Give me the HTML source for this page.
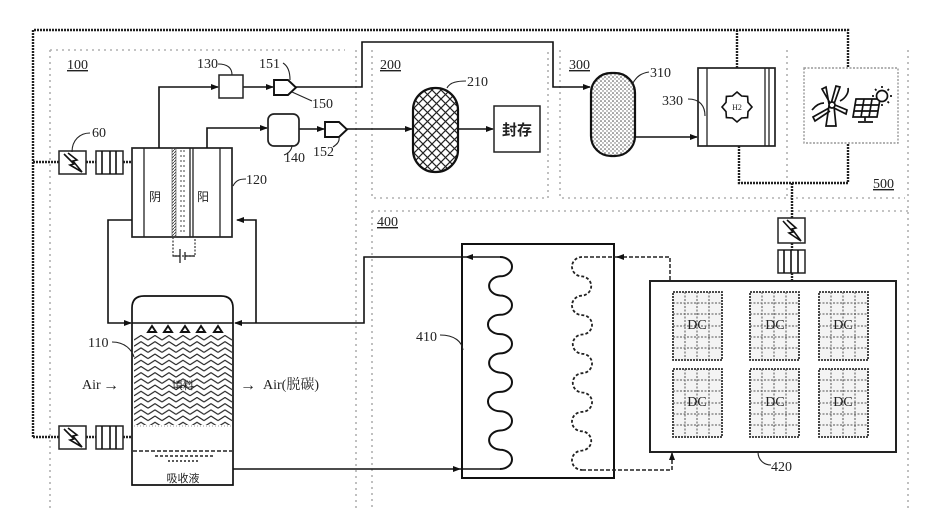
<!DOCTYPE html>
<html><head><meta charset="utf-8"><style>
html,body{margin:0;padding:0;background:#fff;}
svg{display:block;}
.t{font-family:"Liberation Serif","Noto Serif CJK SC",serif;font-size:14px;fill:#222;}
.c{font-family:"Liberation Serif","Noto Sans CJK SC",sans-serif;fill:#222;}
</style></head><body>
<svg width="927" height="509" viewBox="0 0 927 509" xmlns="http://www.w3.org/2000/svg">
<defs>
<marker id="a" markerWidth="8" markerHeight="6" refX="7" refY="3" orient="auto" markerUnits="userSpaceOnUse"><path d="M0,0 L8,3 L0,6z" fill="#111"/></marker>
<pattern id="zig" width="14" height="6.2" patternUnits="userSpaceOnUse" x="134" y="335"><path d="M0,5 L7,0.5 L14,5" fill="none" stroke="#222" stroke-width="1.2"/></pattern>
<pattern id="hatch" width="9" height="9" patternUnits="userSpaceOnUse"><path d="M0,0 L9,9 M9,0 L0,9" stroke="#222" stroke-width="1.2"/></pattern>
<pattern id="dots" width="4" height="4" patternUnits="userSpaceOnUse"><circle cx="1" cy="1" r="0.8" fill="#444"/><circle cx="3" cy="3" r="0.7" fill="#666"/></pattern>
<pattern id="mem" width="3" height="3" patternUnits="userSpaceOnUse"><path d="M0,3 L3,0" stroke="#333" stroke-width="0.8"/></pattern>
<g id="panel">
<rect x="0" y="0" width="49" height="68" fill="#f4f4f4" stroke="#333" stroke-width="1.8" stroke-dasharray="2 1"/>
<g stroke="#555" stroke-width="1" stroke-dasharray="2 1.5">
<path d="M12,0V68M24,0V68M36,0V68M0,11H49M0,22H49M0,34H49M0,45H49M0,56H49"/>
</g>
</g>
</defs>
<rect width="927" height="509" fill="#fff"/>

<!-- region boundaries (light) -->
<g fill="none" stroke="#b0b0b0" stroke-width="1.6" stroke-dasharray="2 4">
<path d="M50,50V509M50,50H345M356,50V509"/>
<path d="M372,50V198H548V50"/>
<path d="M560,50V198H905M787,50V198"/>
<path d="M908,50V509M372,211H908M372,211V509"/>
</g>

<!-- power dotted lines -->
<g fill="none" stroke="#222" stroke-width="2.4" stroke-dasharray="2 1">
<path d="M33,437V30H848V68"/>
<path d="M737,30V68"/>
<path d="M33,162H59M86,162H96M123,162H132"/>
<path d="M33,437H59M86,437H96M123,437H132"/>
<path d="M739,146V183H848V143"/>
<path d="M792,183V218M792,243V250M792,273V281"/>
</g>

<!-- lightning & battery boxes -->
<g fill="#fff" stroke="#222" stroke-width="1.5">
<rect x="59" y="151" width="27" height="23"/>
<rect x="96" y="151" width="27" height="23"/>
<rect x="59" y="426" width="27" height="23"/>
<rect x="96" y="426" width="27" height="23"/>
<rect x="778" y="218" width="27" height="25"/>
<rect x="778" y="250" width="27" height="23"/>
</g>
<g fill="none" stroke="#111" stroke-width="1.6">
<path d="M64,154 L74,164 L70,165 L82,172 L73,161 L77,160 L68,153"/>
<path d="M64,429 L74,439 L70,440 L82,447 L73,436 L77,435 L68,428"/>
<path d="M783,221 L793,232 L789,233 L801,241 L792,229 L796,228 L787,220"/>
<path d="M102,151V174M110,151V174M116,151V174"/>
<path d="M102,426V449M110,426V449M116,426V449"/>
<path d="M784,250V273M791,250V273M798,250V273"/>
</g>

<!-- electrolyzer 120 -->
<rect x="132" y="148" width="100" height="89" fill="#fff" stroke="#222" stroke-width="1.7"/>
<g stroke="#222" stroke-width="1.3">
<path d="M144,148V237M220,148V237M190,148V237M193,148V237"/>
</g>
<rect x="172" y="148" width="4" height="89" fill="url(#mem)" stroke="#444" stroke-width="0.6"/>
<g stroke="#444" stroke-width="1" stroke-dasharray="2 3"><path d="M181,150V235M184,150V235"/></g>
<text class="c" x="149" y="201" font-size="12">阴</text>
<text class="c" x="197" y="201" font-size="12">阳</text>
<path d="M173,237V256H195V237" fill="none" stroke="#333" stroke-width="1.2" stroke-dasharray="2 1.5"/>
<path d="M180,249V263M185,252V260M173,256H180M185,256H195" fill="none" stroke="#222" stroke-width="1.3"/>

<!-- pipes top -->
<g fill="none" stroke="#111" stroke-width="1.6">
<path d="M159,148V87H218" marker-end="url(#a)"/>
<path d="M243,87H273" marker-end="url(#a)"/>
<path d="M295,87H362V42H553V87H590" marker-end="url(#a)"/>
<path d="M207,148V128H267" marker-end="url(#a)"/>
<path d="M299,129H324" marker-end="url(#a)"/>
<path d="M347,129H412" marker-end="url(#a)"/>
<path d="M458,129H493" marker-end="url(#a)"/>
<path d="M635,137H697" marker-end="url(#a)"/>
</g>
<!-- 130, 140 boxes, valves -->
<rect x="219" y="75" width="24" height="23" fill="#fff" stroke="#222" stroke-width="1.5"/>
<rect x="268" y="114" width="31" height="32" rx="6" fill="#fff" stroke="#222" stroke-width="1.7"/>
<path d="M274,80H288L296,87.5L288,95H274Z" fill="#fff" stroke="#111" stroke-width="1.9"/>
<path d="M325,122H339L347,129.5L339,137H325Z" fill="#fff" stroke="#111" stroke-width="1.9"/>

<!-- 210 tank -->
<rect x="413" y="88" width="45" height="84" rx="22" fill="url(#hatch)" stroke="#111" stroke-width="2.2"/>
<!-- storage box -->
<rect x="494" y="106" width="46" height="46" fill="#fff" stroke="#222" stroke-width="1.5"/>
<text class="c" x="517" y="135" font-size="15" font-weight="bold" text-anchor="middle">封存</text>
<!-- 310 tank -->
<rect x="591" y="73" width="44" height="83" rx="20" fill="url(#dots)" stroke="#111" stroke-width="2.2"/>

<!-- 330 box -->
<rect x="698" y="68" width="77" height="78" fill="#fff" stroke="#222" stroke-width="1.7"/>
<path d="M707,68V146M765,68V146M769,68V146" stroke="#222" stroke-width="1.3"/>
<path d="M737,92 L741.6,96 L747.6,96.4 L748,102.4 L752,107 L748,111.6 L747.6,117.6 L741.6,118 L737,122 L732.4,118 L726.4,117.6 L726,111.6 L722,107 L726,102.4 L726.4,96.4 L732.4,96Z" fill="#fff" stroke="#111" stroke-width="1.6"/>
<text class="c" x="737" y="110" font-size="8" text-anchor="middle">H2</text>

<!-- 500 box -->
<rect x="804" y="68" width="94" height="75" fill="#fff" stroke="#999" stroke-width="1.4" stroke-dasharray="2 1.5"/>
<g fill="none" stroke="#111" stroke-width="1.7">
<path d="M826,126 L829,106 L834,106 L836,126Z"/>
<path d="M831,104 L836,86 L840,87 L834,104"/>
<path d="M829,104 L826,87 L822,89 L830,103"/>
<path d="M829,108 L813,117 L815,121 L830,111"/>
<path d="M834,108 L846,114 L847,110 L835,105"/>
<path d="M840,101 C846,98 849,92 848,88"/>
<path d="M812,110 C816,105 820,103 824,103"/>
<circle cx="832" cy="105" r="3" fill="#fff"/>
<path d="M856,99 L880,99 L877,117 L853,117Z"/>
<path d="M855,105H879M854,111H878M864,99L861,117M872,99L869,117"/>
<path d="M865,117V121M858,122H873"/>
<circle cx="882" cy="96" r="5.5" fill="#fff"/>
<path d="M882,86V88M882,104V106M872,96H874M890,96H892M875,89L876.5,90.5M887.5,101.5L889,103M889,89L887.5,90.5"/>
</g>

<!-- tower 110 -->
<path d="M132,485V308Q132,296 144,296H221Q233,296 233,308V485Z" fill="#fff" stroke="#111" stroke-width="1.7"/>
<rect x="134" y="335" width="98" height="90" fill="url(#zig)"/>
<path d="M134,426H232" stroke="#999" stroke-width="1" stroke-dasharray="1 2"/>
<g fill="#fff" stroke="#111" stroke-width="1.9">
<path d="M148,332L152,326L156,332Z"/><path d="M164,332L168,326L172,332Z"/><path d="M181,332L185,326L189,332Z"/><path d="M197,332L201,326L205,332Z"/><path d="M214,332L218,326L222,332Z"/>
</g>
<g stroke="#222" stroke-width="1.4" stroke-dasharray="4 2" fill="none">
<path d="M133,451H232"/>
<path d="M155,456H215" stroke-dasharray="3 2"/>
<path d="M168,461H200" stroke-dasharray="2 2"/>
</g>
<text class="c" x="183" y="482" font-size="11" text-anchor="middle">吸收液</text>
<text class="c" x="183" y="389" font-size="11" text-anchor="middle">填料</text>
<text class="t" x="82" y="389" font-size="11">Air</text>
<text class="c" x="103" y="390" font-size="16">→</text>
<text class="c" x="240" y="390" font-size="16">→</text>
<text class="t" x="263" y="389" font-size="11">Air(脱碳)</text>

<!-- loop pipes around tower -->
<g fill="none" stroke="#111" stroke-width="1.6">
<path d="M132,220H108V323H131" marker-end="url(#a)"/>
<path d="M256,323V220H237" marker-end="url(#a)"/>
<path d="M132,323H233"/>
<path d="M500,257H466" marker-end="url(#a)"/>
<path d="M466,257H364V323H235" marker-end="url(#a)"/>
<path d="M233,469H460" marker-end="url(#a)"/>
<path d="M460,469H500"/>
</g>

<!-- 410 heat exchanger -->
<rect x="462" y="244" width="152" height="234" fill="none" stroke="#111" stroke-width="2"/>
<path d="M500,257 A12,9.64 0 0 1 500,276.3 A12,9.64 0 0 0 500,295.5 A12,9.64 0 0 1 500,314.8 A12,9.64 0 0 0 500,334.1 A12,9.64 0 0 1 500,353.4 A12,9.64 0 0 0 500,372.6 A12,9.64 0 0 1 500,391.9 A12,9.64 0 0 0 500,411.2 A12,9.64 0 0 1 500,430.5 A12,9.64 0 0 0 500,449.7 A12,9.64 0 0 1 500,469" fill="none" stroke="#111" stroke-width="2"/>
<path d="M582,257 A10,9.68 0 0 0 582,276.4 A10,9.68 0 0 1 582,295.7 A10,9.68 0 0 0 582,315.1 A10,9.68 0 0 1 582,334.5 A10,9.68 0 0 0 582,353.8 A10,9.68 0 0 1 582,373.2 A10,9.68 0 0 0 582,392.5 A10,9.68 0 0 1 582,411.9 A10,9.68 0 0 0 582,431.3 A10,9.68 0 0 1 582,450.6 A10,9.68 0 0 0 582,470" fill="none" stroke="#222" stroke-width="1.8" stroke-dasharray="3 2"/>
<g fill="none" stroke="#222" stroke-width="1.5" stroke-dasharray="4 2">
<path d="M670,280V257H618"/>
<path d="M618,257H582"/>
<path d="M582,470H672V456"/>
</g>
<path d="M624,257H617" stroke="#111" stroke-width="1.4" marker-end="url(#a)"/>
<path d="M672,460V453" stroke="#111" stroke-width="1.4" marker-end="url(#a)"/>

<!-- 420 -->
<rect x="650" y="281" width="246" height="171" fill="#fff" stroke="#222" stroke-width="2"/>
<use href="#panel" x="673" y="292"/>
<use href="#panel" x="750" y="292"/>
<use href="#panel" x="819" y="292"/>
<use href="#panel" x="673" y="369"/>
<use href="#panel" x="750" y="369"/>
<use href="#panel" x="819" y="369"/>
<g class="t" font-size="9" text-anchor="middle">
<text x="697" y="329">DC</text><text x="775" y="329">DC</text><text x="843" y="329">DC</text>
<text x="697" y="406">DC</text><text x="775" y="406">DC</text><text x="843" y="406">DC</text>
</g>

<!-- leaders -->
<g fill="none" stroke="#222" stroke-width="1.1">
<path d="M72,152C72,140 80,133 90,133"/>
<path d="M218,64C228,64 232,68 232,75"/>
<path d="M283,63C288,66 290,72 290,80"/>
<path d="M292,92L312,101"/>
<path d="M339,137C340,142 336,145 333,147"/>
<path d="M292,145C292,151 287,154 284,155"/>
<path d="M233,186C236,180 240,179 246,179"/>
<path d="M447,88C450,82 458,81 466,81"/>
<path d="M632,85C636,76 642,73 649,72"/>
<path d="M688,99C700,99 705,106 705,116"/>
<path d="M112,342C125,342 132,350 134,357"/>
<path d="M440,335C455,335 462,342 463,350"/>
<path d="M758,452C758,460 764,465 771,465"/>
</g>

<!-- labels -->
<g class="t">
<text x="67" y="69" text-decoration="underline">100</text>
<text x="380" y="69" text-decoration="underline">200</text>
<text x="569" y="69" text-decoration="underline">300</text>
<text x="377" y="226" text-decoration="underline">400</text>
<text x="873" y="188" text-decoration="underline">500</text>
<text x="92" y="137">60</text>
<text x="197" y="68">130</text>
<text x="259" y="68">151</text>
<text x="312" y="108">150</text>
<text x="284" y="162">140</text>
<text x="313" y="156">152</text>
<text x="246" y="184">120</text>
<text x="467" y="86">210</text>
<text x="650" y="77">310</text>
<text x="662" y="105">330</text>
<text x="88" y="347">110</text>
<text x="416" y="341">410</text>
<text x="771" y="471">420</text>
</g>
</svg>
</body></html>
